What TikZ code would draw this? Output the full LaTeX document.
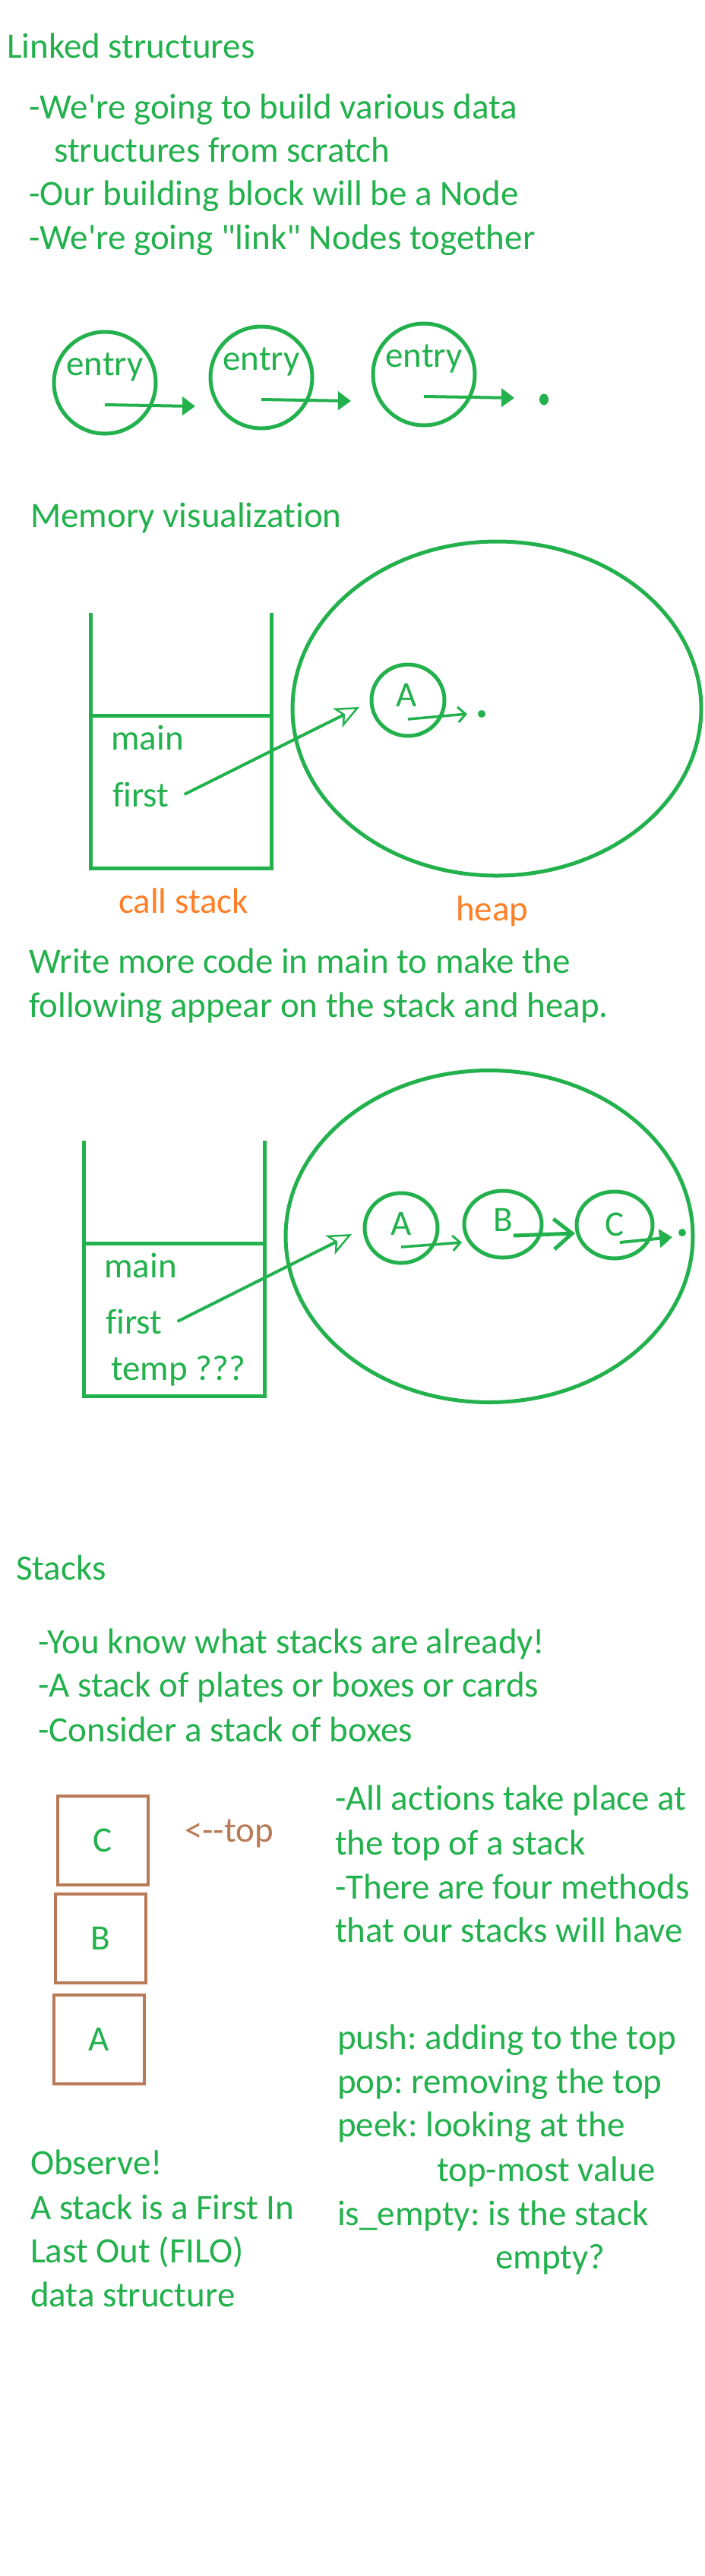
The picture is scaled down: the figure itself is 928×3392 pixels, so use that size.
\documentclass[tikz,border=0pt]{standalone}
\usepackage{fontspec}
\setmainfont{Carlito}[Ligatures={TeXOff, NoCommon}]
\usetikzlibrary{arrows.meta, shapes.geometric}
\definecolor{ink}{RGB}{34,177,76}
\definecolor{tag}{RGB}{255,127,39}
\definecolor{crate}{RGB}{185,122,87}
\frenchspacing

\tikzset{
  txt/.style={anchor=base west, inner sep=0pt, text=ink, font=\fontsize{47}{58}\selectfont},
  ctxt/.style={txt, anchor=base},
  bubble/.style={draw=ink, line width=5pt, ellipse, inner sep=0pt},
  wall/.style={draw=ink, line width=5pt},
  nil/.style={ellipse, fill=ink, inner sep=0pt, minimum width=12, minimum height=15},
  link/.style={draw=ink, line width=4pt, -{Triangle[length=17pt, width=24pt]}},
  ptr/.style={draw=ink, line width=4pt, -{Stealth[open, length=32pt, width=28pt, inset=8pt, line width=2.5pt]}},
  nextp/.style={draw=ink, line width=3.5pt, -{Straight Barb[length=10pt, width=20pt, line width=3pt]}},
  bignext/.style={draw=ink, line width=5pt, -{Straight Barb[length=24pt, width=40pt, line width=5pt]}},
  plate/.style={draw=crate, line width=4pt, minimum width=119, minimum height=117, inner sep=0pt, text=ink, font=\fontsize{47}{58}\selectfont}
}

\begin{document}
\begin{tikzpicture}[x=1pt, y=-1pt]
\useasboundingbox[fill=white] (0,0) rectangle (928,3392);

% linked structures
\node[txt] (title1) at (9,76) {Linked structures};
\node[txt] (pt1) at (38,156) {-We're going to build various data};
\node[txt] (pt1b) at (71,213) {structures from scratch};
\node[txt] (pt2) at (38,270) {-Our building block will be a Node};
\node[txt] (pt3) at (38,328) {-We're going "link" Nodes together};

\foreach \i/\x/\y/\ex in {1/138/504/257, 2/344/497/462, 3/558/493/677} {
  \node[bubble, minimum width=134, minimum height=134] (e\i) at (\x,\y) {};
  \node[ctxt] (le\i) at (\x,\y-10) {entry};
  \coordinate (ne\i) at (\ex,\y+31);
  \draw[link] ([yshift=-29pt]e\i.center) -- (ne\i);
}
\node[nil] (end1) at (716,526) {};

% memory visualization
\node[txt] (title2) at (40,694) {Memory visualization};
\draw[wall] (119,807) -- (119,1143) -- (357,1143) -- (357,807);
\draw[wall] (117,942) -- (359,942);
\node[txt] (main1) at (146,987) {main};
\node[txt] (first1) at (148,1062) {first};
\node[txt, text=tag] (cs1) at (156,1202) {call stack};
\node[bubble, minimum width=538, minimum height=440] (heap1) at (654,933) {};
\node[txt, text=tag] (hp1) at (600,1212) {heap};
\node[bubble, minimum width=96, minimum height=94] (a1) at (537,922) {};
\node[ctxt] (la1) at (535,930) {A};
\coordinate (p1) at (473,931);
\draw[ptr] ([xshift=20pt]first1.east) -- (p1);
\coordinate (na1) at (615,940);
\draw[nextp] ([yshift=-25pt]a1.center) -- (na1);
\node[nil, minimum width=10, minimum height=10] (end2) at (634,940) {};

% exercise
\node[txt] (ask1) at (38,1281) {Write more code in main to make the};
\node[txt] (ask2) at (38,1339) {following appear on the stack and heap.};
\draw[wall] (110,1502) -- (110,1838) -- (348,1838) -- (348,1502);
\draw[wall] (108,1637) -- (350,1637);
\node[txt] (main2) at (137,1682) {main};
\node[txt] (first2) at (139,1756) {first};
\node[txt] (temp2) at (146,1817) {temp ???};
\node[bubble, minimum width=536, minimum height=437] (heap2) at (644,1628) {};
\foreach \n/\x/\y/\w/\h/\ty in {A/528/1617/96/92/1626, B/662/1612/102/88/1621, C/809/1613/100/88/1627} {
  \node[bubble, minimum width=\w, minimum height=\h] (h\n) at (\x,\y) {};
  \node[ctxt] (lh\n) at (\x,\ty) {\n};
}
\coordinate (p2) at (463,1625);
\draw[ptr] ([xshift=20pt]first2.east) -- (p2);
\coordinate (nA) at (608,1636);
\draw[nextp] ([yshift=-25pt]hA.center) -- (nA);
\coordinate (nB) at (757,1624);
\draw[bignext] ([xshift=14pt, yshift=-15pt]hB.center) -- (nB);
\coordinate (nC) at (885,1629);
\draw[link] ([xshift=7pt, yshift=-23pt]hC.center) -- (nC);
\node[nil, minimum width=10, minimum height=10] (end3) at (898,1623) {};

% stacks
\node[txt] (title3) at (21,2080) {Stacks};
\node[txt] (sk1) at (50,2177) {-You know what stacks are already!};
\node[txt] (sk2) at (50,2234) {-A stack of plates or boxes or cards};
\node[txt] (sk3) at (50,2293) {-Consider a stack of boxes};

\foreach \n/\x/\y in {C/135.5/2423.5, B/132.5/2552.5, A/130.5/2685} {
  \node[plate] (box\n) at (\x,\y) {\n};
}
\node[txt, text=crate] (topmark) at (243,2425) {<--top};

\node[txt] (r1) at (441,2383) {-All actions take place at};
\node[txt] (r2) at (441,2442) {the top of a stack};
\node[txt] (r3) at (441,2500) {-There are four methods};
\node[txt] (r4) at (441,2557) {that our stacks will have};

\node[txt] (m1) at (444,2698) {push: adding to the top};
\node[txt] (m2) at (444,2756) {pop: removing the top};
\node[txt] (m3) at (444,2813) {peek: looking at the};
\node[txt] (m3b) at (575,2872) {top-most value};
\node[txt] (m4) at (444,2930) {is\_empty: is the stack};
\node[txt] (m4b) at (652,2987) {empty?};

\node[txt] (ob1) at (40,2863) {Observe!};
\node[txt] (ob2) at (40,2922) {A stack is a First In};
\node[txt] (ob3) at (40,2979) {Last Out (FILO)};
\node[txt] (ob4) at (40,3037) {data structure};
\end{tikzpicture}
\end{document}
